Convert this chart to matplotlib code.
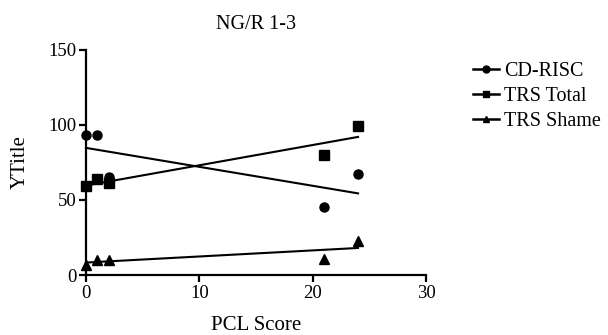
import numpy as np
import matplotlib
matplotlib.use("Agg")
import matplotlib.pyplot as plt
from matplotlib.lines import Line2D

plt.rcParams['font.family'] = ['Liberation Serif', 'DejaVu Serif']

pcl = [0, 1, 2, 21, 24]
cd_risc = [93, 93, 65, 45, 67]
trs_total = [59, 64, 61, 80, 99]
trs_shame = [7, 10, 10, 11, 23]
series_names = ["CD-RISC", "TRS Total", "TRS Shame"]
markers = ["o", "s", "^"]

fig = plt.figure(figsize=(6.08, 3.35), dpi=100)
ax = fig.add_axes([0.1414, 0.179, 0.5593, 0.672])

x = np.array(pcl, dtype=float)
handles = []
for ys, m, name in zip([cd_risc, trs_total, trs_shame], markers, series_names):
    ys = np.array(ys, dtype=float)
    ax.plot(x, ys, linestyle='none', marker=m, color='black', markersize=6.5, clip_on=False, zorder=3)
    slope, intercept = np.polyfit(x, ys, 1)
    xx = np.array([x.min(), x.max()])
    ax.plot(xx, slope * xx + intercept, color='black', linewidth=1.5, clip_on=False)
    handles.append(Line2D([0], [0], color='black', marker=m, markersize=5, linewidth=1.8, label=name))

ax.set_xlim(0, 30)
ax.set_ylim(0, 150)
ax.set_xticks([0, 10, 20, 30])
ax.set_yticks([0, 50, 100, 150])
for s in ['top', 'right']:
    ax.spines[s].set_visible(False)
for s in ['left', 'bottom']:
    ax.spines[s].set_linewidth(1.6)
ax.tick_params(axis='both', direction='out', length=5, width=1.6, labelsize=13.5, pad=2)
ax.set_xlabel("PCL Score", fontsize=15, labelpad=10)
ax.set_ylabel("YTitle", fontsize=15, labelpad=13)
ax.set_title("NG/R 1-3", fontsize=14.5, pad=15)

fig.legend(handles=handles, loc='upper left', bbox_to_anchor=(0.765, 0.84), frameon=False,
           fontsize=14.5, handlelength=1.3, handletextpad=0.25, labelspacing=0.3, borderaxespad=0)

fig.savefig("out.png", dpi=100)
